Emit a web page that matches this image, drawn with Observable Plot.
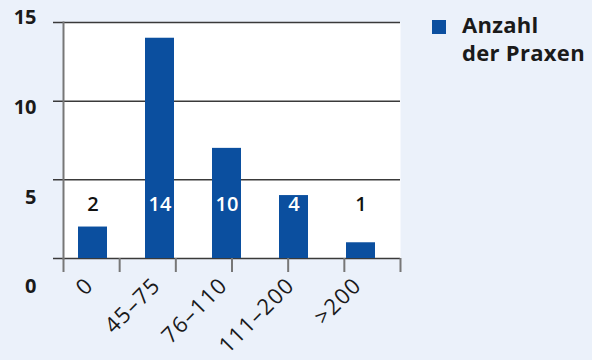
<!DOCTYPE html>
<html>
<head>
<meta charset="utf-8">
<script src="https://cdn.jsdelivr.net/npm/d3@7"></script>
<script src="https://cdn.jsdelivr.net/npm/@observablehq/plot@0.6"></script>
<style>
  html, body { margin: 0; padding: 0; background: #ebf1fa; }
  #wrap { position: relative; width: 592px; height: 360px; background: #ebf1fa; font-family: "Open Sans", sans-serif; }
  #wrap svg { position: absolute; left: 0; top: 0; }
  #wrap .xlab text { letter-spacing: 1.4px; }
  #legend { position: absolute; left: 432px; top: 10px; color: #1a1a1a; font-weight: 700; font-size: 22px; line-height: 28px; }
  #legend .sw { position: absolute; left: 0; top: 10px; width: 14px; height: 14px; background: #0b4f9f; }
  #legend .tx { position: absolute; left: 30px; top: 0; white-space: nowrap; letter-spacing: 0.3px; }
</style>
</head>
<body>
<div id="wrap"></div>
<script>
const categories = ["0", "45–75", "76–110", "111–200", ">200"];
const barHeights = [2, 14, 7, 4, 1];
const barLabels = ["2", "14", "10", "4", "1"];
const yTicks = [0, 5, 10, 15];
const gridValues = [0, 5, 10, 15];
const tickSlots = [0, 1, 2, 3, 4, 5, 6];
const legendLines = ["Anzahl", "der Praxen"];

const data = categories.map((c, i) => ({cat: c, count: barHeights[i], label: barLabels[i]}));

const W = 592, H = 360;
const barColor = "#0b4f9f";
const font = "Open Sans, sans-serif";
const wrap = document.getElementById("wrap");

const main = Plot.plot({
  width: W, height: H,
  marginLeft: 63, marginRight: 192, marginTop: 22, marginBottom: 102,
  style: {background: "transparent", fontFamily: font},
  x: {type: "band", domain: categories, paddingInner: 0.57, paddingOuter: 0.285, align: 0.365, axis: null},
  y: {domain: [0, 15], axis: null},
  marks: [
    Plot.frame({fill: "white", stroke: null}),
    Plot.ruleY(gridValues, {stroke: "#3a3a3a", strokeWidth: 1.5, insetLeft: -10}),
    Plot.frame({anchor: "left", stroke: "#777", strokeWidth: 2}),
    Plot.barY(data, {x: "cat", y: "count", fill: barColor}),
    Plot.text(data, {x: "cat", text: "label", frameAnchor: "bottom", dy: -48, fontSize: 20, fontWeight: 600,
      fill: d => d.count > 3 ? "white" : "#111"}),
    Plot.text(categories, {x: d => d, text: d => d, frameAnchor: "bottom", rotate: -45, textAnchor: "end",
      dy: 28, dx: 2, fontSize: 22, fontWeight: 500, fill: "#1a1a1a", className: "xlab"})
  ]
});

const ticks = Plot.plot({
  width: W, height: H,
  marginLeft: 63, marginRight: 192, marginTop: 258, marginBottom: 88,
  style: {background: "transparent"},
  x: {domain: [0, 6], axis: null},
  y: {axis: null},
  marks: [
    Plot.ruleX(tickSlots, {stroke: "#777", strokeWidth: 2})
  ]
});

const ylab = Plot.plot({
  width: W, height: H,
  marginLeft: 63, marginRight: 192, marginTop: 17, marginBottom: 73.5,
  style: {background: "transparent", fontFamily: font},
  x: {axis: null},
  y: {domain: [0, 15], axis: null},
  marks: [
    Plot.text(yTicks, {y: d => d, text: d => String(d), frameAnchor: "left", textAnchor: "end", dx: -27,
      fontSize: 20, fontWeight: 700, fill: "#1a1a1a"})
  ]
});

wrap.appendChild(main);
wrap.appendChild(ticks);
wrap.appendChild(ylab);

const legend = document.createElement("div");
legend.id = "legend";
const sw = document.createElement("div");
sw.className = "sw";
const tx = document.createElement("div");
tx.className = "tx";
tx.innerHTML = legendLines.join("<br>");
legend.appendChild(sw);
legend.appendChild(tx);
wrap.appendChild(legend);
</script>
</body>
</html>
